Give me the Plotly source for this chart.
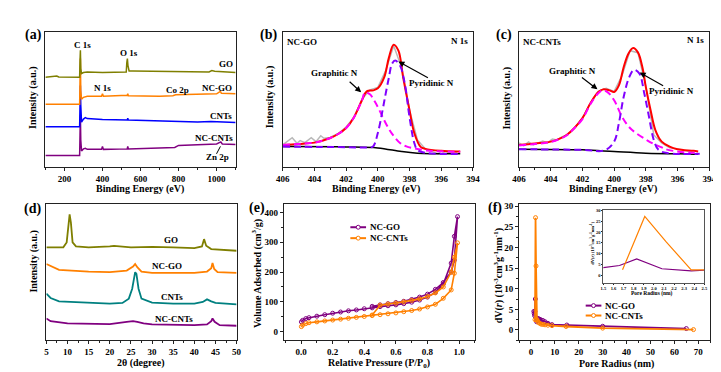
import plotly.graph_objects as go

# ---------------- data ----------------
# (a) XPS survey spectra (binding energy eV, intensity a.u. offset)
a_go_be = [100, 150, 160, 170, 280, 282, 284, 286, 290, 300, 320, 400, 525, 528, 531, 534, 540, 560, 700, 900, 960, 975, 990, 1100]
a_go_int = [90.3, 90.7, 91.5, 90.5, 90.3, 107, 117.5, 99, 94, 95, 95.5, 95, 95.5, 105, 109, 102, 96.5, 96.5, 96, 95.5, 95.5, 97, 96.2, 95]
a_ncgo_be = [100, 280, 282, 284, 286, 290, 300, 310, 320, 395, 400, 405, 530, 533, 536, 700, 770, 785, 1000, 1020, 1025, 1100]
a_ncgo_int = [63, 63, 87, 109, 77, 68, 70, 70.5, 71, 71, 73.7, 71, 72, 73.5, 71.5, 71, 71.5, 72.5, 73.5, 76, 74, 73.7]
a_cnt_be = [100, 280, 282, 284, 286, 290, 300, 310, 320, 400, 530, 533, 536, 700, 900, 970, 1100]
a_cnt_int = [40.3, 40.3, 62, 82, 62, 45, 48, 49.5, 48.5, 47.5, 47, 49, 47, 46, 45, 45.5, 44.5]
a_nccnt_be = [100, 280, 282, 284, 286, 290, 300, 310, 320, 395, 400, 405, 530, 533, 536, 690, 780, 800, 900, 1000, 1022, 1030, 1100]
a_nccnt_int = [11.3, 11.3, 32, 52, 27, 16, 18, 18.5, 17.5, 17.5, 20.5, 17.5, 18, 20.5, 18, 18.5, 19.5, 21.5, 22.5, 23, 25, 23, 22.5]

# (b) NC-GO N 1s
b_raw_be = [406, 405.7, 405.4, 405.1, 404.9, 404.6, 404.2, 403.9, 403.6, 403.4, 403, 402.5, 402, 401.5, 401, 400.5, 400, 399.5, 399, 398.5, 398, 397.5, 397, 396.5, 396.2, 396, 395.7, 395.3, 395]
b_raw_int = [22, 25.3, 29.3, 23.7, 26.3, 24.3, 29.3, 25.3, 31.3, 28.7, 29.5, 33.5, 40, 50, 68, 77.5, 80, 97, 122, 100, 57, 27, 18, 15, 13, 15.5, 13.5, 15, 14.5]
b_fit_be = [406, 405, 404, 403, 402.5, 402, 401.5, 401, 400.7, 400.3, 400, 399.6, 399.3, 399, 398.7, 398.4, 398, 397.7, 397.3, 397, 396, 395, 394.8]
b_fit_int = [22, 23, 24.3, 29, 33, 39, 50, 67, 76, 77, 79, 90, 110, 123, 117, 90, 57, 34, 20, 18, 16, 15.3, 15.3]
b_grap_be = [406, 405, 404, 403, 402.5, 402, 401.5, 401, 400.8, 400.5, 400.2, 399.9, 399.6, 399.3, 399, 398.6, 398.2, 397.7, 397, 396, 394.8]
b_grap_int = [22, 23, 24.3, 29, 33, 39, 50, 67, 75, 73, 66, 57, 47, 38, 31, 24, 20.5, 18.5, 16.5, 15.5, 15]
b_pyr_be = [406, 402, 400.6, 400.3, 400, 399.7, 399.5, 399.3, 399.1, 398.9, 398.6, 398.3, 398, 397.7, 397.5, 397, 394.8]
b_pyr_int = [20.3, 19.7, 19.5, 20.5, 34, 57, 74, 90, 104, 107, 102, 84, 50, 24, 17, 14, 13]
b_bg_be = [406, 402, 400, 398.5, 397.5, 395, 394.8]
b_bg_int = [20.3, 20, 19, 15.3, 13.7, 13, 13]

# (c) NC-CNTs N 1s
c_raw_be = [406, 405.7, 405.4, 405.1, 404.8, 404.5, 404.2, 403.9, 403.6, 403.3, 403, 402.5, 402, 401.5, 401, 400.5, 400, 399.5, 399, 398.5, 398, 397.5, 397, 396.5, 396, 395.5, 395]
c_raw_int = [24, 21, 25, 22, 24, 26, 24, 28, 27, 30, 32, 39, 49, 64, 76, 79, 76, 92, 117, 115, 81, 32, 24, 19, 18, 16, 14.5]
c_fit_be = [406, 405, 404, 403, 402, 401.5, 401, 400.7, 400.3, 400, 399.7, 399.4, 399.1, 398.8, 398.5, 398.2, 398, 397.7, 397.4, 397, 396.5, 396, 395, 394.7]
c_fit_int = [22, 23.5, 25.3, 32, 49, 64, 75.3, 78, 77, 75.3, 82, 100.3, 114, 119.7, 115.3, 99, 80.3, 57, 37, 25.3, 20.3, 17.7, 16, 15.3]
c_grap_be = [406, 405, 404, 403, 402.5, 402, 401.5, 401, 400.7, 400.4, 400, 399.5, 399, 398.6, 398, 397.6, 397, 396.6, 395.3, 394.7]
c_grap_int = [21.5, 23, 25, 31.5, 39, 48, 63, 74, 77, 75, 67, 50.3, 39, 33.7, 27.5, 23.7, 19.5, 17, 14.3, 14]
c_pyr_be = [406, 402, 400.6, 400.0, 399.7, 399.4, 399.05, 398.75, 398.4, 398.1, 397.8, 397.5, 397.2, 396.6, 394.6]
c_pyr_int = [17.7, 17, 16.5, 25.3, 44, 70.3, 90.3, 97.7, 93.7, 74, 50.3, 27, 17, 13.7, 13]
c_bg_be = [406, 402, 400, 398, 395, 394.7]
c_bg_int = [17.7, 17, 15.3, 13.7, 12.7, 12.5]

# (d) XRD patterns
d_go_2t = [5, 9, 9.8, 10.2, 10.5, 10.8, 11.2, 12, 15, 20, 21, 25, 30, 35, 40, 41.8, 42.3, 42.8, 44, 50]
d_go_int = [93.7, 93.7, 98.7, 118.7, 127, 118.7, 98.7, 94.7, 93.7, 94.7, 95.3, 93.7, 94.3, 93.7, 93, 94.7, 102, 95.3, 92, 90.3]
d_ncgo_2t = [5, 5.5, 6, 8, 15, 20, 24, 25.5, 26, 26.5, 27.5, 30, 40, 43, 44, 44.3, 44.7, 45.5, 50]
d_ncgo_int = [77, 76, 74.3, 71, 69.3, 68.7, 70.3, 74.3, 77, 73.7, 69.3, 68, 68, 69.3, 72.7, 78, 72, 68.7, 68]
d_cnt_2t = [5, 6, 8, 15, 20, 23, 24.5, 25.3, 25.8, 26, 26.3, 26.8, 27.5, 30, 35, 40, 42, 43, 44, 45, 50]
d_cnt_int = [47, 42.7, 39.3, 37.7, 37, 37.7, 42, 52, 64.7, 68.7, 67, 52, 42, 38, 37, 37, 38.7, 41.3, 39.3, 37.7, 36.3]
d_nccnt_2t = [5, 6, 10, 20, 24, 25.5, 26.5, 28, 30, 40, 43, 44, 44.3, 44.8, 46, 50]
d_nccnt_int = [22, 19.3, 17, 16.3, 18.7, 19.3, 18.7, 17, 16, 15.3, 16, 19.3, 22, 18.7, 15.3, 14.7]

# (e) N2 adsorption-desorption isotherms (adsorption then desorption)
e_p = [0.002, 0.01, 0.03, 0.05, 0.1, 0.15, 0.2, 0.25, 0.3, 0.35, 0.4, 0.45, 0.5, 0.55, 0.6, 0.65, 0.7, 0.75, 0.8, 0.85, 0.9, 0.95, 0.97, 0.99,
       0.97, 0.95, 0.9, 0.85, 0.8, 0.75, 0.7, 0.65, 0.6, 0.55, 0.5, 0.45]
e_ncgo = [33, 38, 44, 47, 52, 57, 62, 66, 70, 73, 77, 80, 84, 87, 90, 94, 99, 106, 116, 132, 160, 230, 320, 386,
          240, 200, 165, 142, 126, 116, 108, 102, 98, 94, 90, 85]
e_nccnt = [17, 22, 27, 30, 33, 36, 39, 42, 45, 48, 51, 54, 57, 60, 63, 67, 71, 76, 83, 92, 112, 140, 196, 298,
           250, 200, 150, 130, 118, 110, 105, 100, 96, 93, 89, 56]

# (f) pore size distribution
f_ncgo_r = [1.2, 1.35, 1.5, 1.66, 1.83, 2.08, 2.37, 2.5, 2.8, 3.2, 3.7, 4.3, 5.0, 5.9, 7.1, 8.8, 15, 30, 65]
f_ncgo_dv = [4.5, 4.0, 3.5, 4.5, 7.5, 3.0, 2.0, 2.3, 2.8, 2.7, 2.6, 2.4, 2.3, 2.0, 1.6, 1.3, 1.2, 0.9, 0.35]
f_nccnt_r = [1.69, 1.91, 2.12, 2.37, 2.5, 2.8, 3.2, 3.7, 4.3, 5.0, 5.9, 7.1, 8.8, 14.7, 30, 68]
f_nccnt_dv = [2.5, 27.2, 15.5, 2.5, 2.5, 2.1, 1.8, 1.6, 1.4, 1.35, 1.25, 1.15, 1.05, 0.85, 0.45, 0.1]

# colors
OLIVE = '#7f7f00'
ORANGE = '#ff8000'
BLUE = '#0000ff'
PURPLE = '#800080'
TEAL = '#008080'
RED = '#ff0000'
MAGENTA = '#ff00ff'
VIOLET = '#8000ff'
GRAY = '#b8b8b8'

FONT = "Liberation Serif, Times New Roman, serif"
W, H = 721, 372


def X(p):
    return p / W


def Y(p):
    return 1 - p / H


fig = go.Figure()


def line(xs, ys, color, xa, ya, width=1.5, dash=None, shape='linear', markers=False):
    fig.add_trace(go.Scatter(
        x=xs, y=ys, xaxis=xa, yaxis=ya,
        mode='lines+markers' if markers else 'lines',
        line=dict(color=color, width=width, dash=dash, shape=shape),
        marker=dict(symbol='circle-open', size=4, color=color, line=dict(width=1, color=color)),
        showlegend=False, hoverinfo='skip'))


# (a)
line(a_nccnt_be, a_nccnt_int, PURPLE, 'x', 'y')
line(a_cnt_be, a_cnt_int, BLUE, 'x', 'y')
line(a_ncgo_be, a_ncgo_int, ORANGE, 'x', 'y')
line(a_go_be, a_go_int, OLIVE, 'x', 'y')

# (b)
DASH = '7px,4px'
line(b_raw_be, b_raw_int, GRAY, 'x2', 'y2', 1.5)
line(b_fit_be, b_fit_int, RED, 'x2', 'y2', 2, shape='spline')
line(b_bg_be, b_bg_int, 'black', 'x2', 'y2', 1.5, shape='spline')
line(b_grap_be, b_grap_int, MAGENTA, 'x2', 'y2', 2, dash=DASH, shape='spline')
line(b_pyr_be, b_pyr_int, VIOLET, 'x2', 'y2', 2, dash=DASH, shape='spline')

# (c)
line(c_raw_be, c_raw_int, GRAY, 'x3', 'y3', 1.5)
line(c_fit_be, c_fit_int, RED, 'x3', 'y3', 2, shape='spline')
line(c_bg_be, c_bg_int, 'black', 'x3', 'y3', 1.5, shape='spline')
line(c_grap_be, c_grap_int, MAGENTA, 'x3', 'y3', 2, dash=DASH, shape='spline')
line(c_pyr_be, c_pyr_int, VIOLET, 'x3', 'y3', 2, dash=DASH, shape='spline')

# (d)
line(d_go_2t, d_go_int, OLIVE, 'x4', 'y4', 1.8)
line(d_ncgo_2t, d_ncgo_int, ORANGE, 'x4', 'y4', 1.8)
line(d_cnt_2t, d_cnt_int, TEAL, 'x4', 'y4', 1.8)
line(d_nccnt_2t, d_nccnt_int, PURPLE, 'x4', 'y4', 1.8)

# (e)
line(e_p, e_ncgo, PURPLE, 'x5', 'y5', 1.6, markers=True)
line(e_p, e_nccnt, ORANGE, 'x5', 'y5', 1.6, markers=True)

# (f) main and inset
line(f_ncgo_r, f_ncgo_dv, PURPLE, 'x6', 'y6', 1.8, markers=True)
line(f_nccnt_r, f_nccnt_dv, ORANGE, 'x6', 'y6', 1.8, markers=True)
line(f_ncgo_r, f_ncgo_dv, PURPLE, 'x7', 'y7', 1.2)
line(f_nccnt_r, f_nccnt_dv, ORANGE, 'x7', 'y7', 1.2)


def ax(**kw):
    d = dict(showline=True, linecolor='#222', linewidth=1, mirror=True, showgrid=False,
             zeroline=False, ticks='outside', ticklen=3, tickwidth=1, tickcolor='#222',
             tickfont=dict(family=FONT, size=9, color='black', weight='bold'),
             autorange=False)
    d.update(kw)
    return d


def noy(**kw):
    return ax(showticklabels=False, ticks='', **kw)


def minor(dt, ln=2):
    return dict(ticks='outside', ticklen=ln, dtick=dt, tickcolor='#222')


INSET_FONT = dict(family=FONT, size=4.5, color='black', weight='bold')

fig.update_layout(
    width=W, height=H, margin=dict(l=0, r=0, t=0, b=0),
    paper_bgcolor='white', plot_bgcolor='white', showlegend=False,
    xaxis=ax(domain=[X(31), X(225)], range=[100, 1100], tick0=0, dtick=200, minor=minor(100), anchor='y'),
    yaxis=noy(domain=[Y(157), Y(21)], range=[0, 136], anchor='x'),
    xaxis2=ax(domain=[X(273), X(467)], range=[406, 394], tick0=0, dtick=2, minor=minor(1), anchor='y2'),
    yaxis2=noy(domain=[Y(157), Y(21)], range=[0, 136], anchor='x2'),
    xaxis3=ax(domain=[X(514), X(708)], range=[406, 394], tick0=0, dtick=2, minor=minor(1), anchor='y3'),
    yaxis3=noy(domain=[Y(157), Y(21)], range=[0, 136], anchor='x3'),
    xaxis4=ax(domain=[X(32), X(226)], range=[5, 50], tick0=0, dtick=5, minor=minor(2.5), anchor='y4'),
    yaxis4=noy(domain=[Y(332), Y(195)], range=[0, 137], anchor='x4'),
    xaxis5=ax(domain=[X(274), X(469)], range=[-0.11, 1.1], tick0=0, dtick=0.2, tickformat='.1f', minor=minor(0.1), anchor='y5'),
    yaxis5=ax(domain=[Y(332), Y(195)], range=[-29, 427], tick0=0, dtick=100, minor=minor(50), anchor='x5'),
    xaxis6=ax(domain=[X(514), X(709)], range=[-5, 75], tick0=0, dtick=10, minor=minor(5), anchor='y6'),
    yaxis6=ax(domain=[Y(332), Y(195)], range=[-2.5, 30.4], tick0=0, dtick=5, minor=minor(2.5), anchor='x6'),
    xaxis7=ax(domain=[X(600), X(703)], range=[1.5, 2.5], tick0=1.5, dtick=0.1, tickformat='.1f', ticklen=1,
              linecolor='#555', tickfont=INSET_FONT, anchor='y7'),
    yaxis7=ax(domain=[Y(274), Y(201)], range=[-3.5, 30], tick0=0, dtick=5, ticklen=1,
              linecolor='#555', tickfont=INSET_FONT, anchor='x7'),
)


def text(t, px, py, size=9, angle=0, xanchor='center'):
    fig.add_annotation(text=t, x=X(px), y=Y(py), xref='paper', yref='paper', showarrow=False,
                       font=dict(family=FONT, size=size, color='black', weight='bold'),
                       textangle=angle, xanchor=xanchor, yanchor='middle')


def arrow(hx, hy, tx, ty):
    fig.add_annotation(x=X(hx), y=Y(hy), xref='paper', yref='paper', ax=tx - hx, ay=ty - hy,
                       axref='pixel', ayref='pixel', text='', showarrow=True,
                       arrowhead=2, arrowsize=1, arrowwidth=1.2, arrowcolor='black')


def legend_item(px0, px1, py, color, label):
    fig.add_shape(type='line', xref='paper', yref='paper', x0=X(px0), x1=X(px1), y0=Y(py), y1=Y(py),
                  line=dict(color=color, width=2))
    cx = (px0 + px1) / 2
    fig.add_shape(type='circle', xref='paper', yref='paper', x0=X(cx - 2), x1=X(cx + 2),
                  y0=Y(py + 2), y1=Y(py - 2), line=dict(color=color, width=1), fillcolor='white')
    text(label, px1 + 2, py, 9, xanchor='left')


# panel letters
for lab, px, py in [('(a)', 19, 24), ('(b)', 259, 24), ('(c)', 499, 24),
                    ('(d)', 18, 200), ('(e)', 247, 199), ('(f)', 489, 199)]:
    text(lab, px, py, 14)

# axis titles
text('Intensity (a.u.)', 19, 87, 10, -90)
text('Intensity (a.u.)', 260, 86, 10, -90)
text('Intensity (a.u.)', 502, 88, 10, -90)
text('Intensity (a.u.)', 19, 252, 10, -90)
text('Volume Adsorbed (cm<sup>3</sup>/g)', 247, 265, 10, -90)
text('dV(<i>r</i>) (10<sup>-3</sup>cm<sup>3</sup>g<sup>-1</sup>nm<sup>-1</sup>)', 493, 267, 10, -90)
text('Binding Energy (eV)', 127, 179, 10)
text('Binding Energy (eV)', 368, 179, 10)
text('Binding Energy (eV)', 610, 179, 10)
text('2θ (degree)', 129, 355, 10)
text('Relative Pressure (P/P<sub>0</sub>)', 371, 355, 10)
text('Pore Radius (nm)', 613, 356, 10)
text('Pore Radius (nm)', 650, 285, 5.5)
text('dV(<i>r</i>) (10<sup>-3</sup>cm<sup>3</sup>g<sup>-1</sup>nm<sup>-1</sup>)', 589, 234, 4.5, -90)

# (a) labels
text('C 1s', 68.5, 34, 9)
text('O 1s', 116, 42, 9)
text('GO', 215, 53, 9)
text('N 1s', 89.5, 78, 9)
text('Co 2p', 166, 80, 9)
text('NC-GO', 206.5, 78, 9)
text('CNTs', 210.5, 106, 9)
text('NC-CNTs', 203, 128, 9)
text('Zn 2p', 206, 147, 9)
fig.add_shape(type='line', xref='paper', yref='paper', x0=X(205.5), y0=Y(144), x1=X(209.5), y1=Y(136.5),
              line=dict(color='black', width=1))

# (b) labels
text('NC-GO', 293, 31, 9)
text('N 1s', 453, 30, 9)
text('Graphitic N', 326, 63, 9)
text('Pyridinic N', 425, 73, 9)
arrow(353, 82, 340, 70)
arrow(391, 51, 422, 68)

# (c) labels
text('NC-CNTs', 537, 31, 9)
text('N 1s', 694, 29, 9)
text('Graphitic N', 569, 60, 9)
text('Pyridinic N', 670, 81, 9)
arrow(594, 79, 577, 66)
arrow(637, 62, 662, 76)

# (d) labels
text('GO', 159, 231, 9)
text('NC-GO', 155, 257, 9)
text('CNTs', 160, 288, 9)
text('NC-CNTs', 162, 311, 9)

# legends
legend_item(342, 358, 218, PURPLE, 'NC-GO')
legend_item(342, 358, 229, ORANGE, 'NC-CNTs')
legend_item(582, 598, 297, PURPLE, 'NC-GO')
legend_item(582, 598, 307, ORANGE, 'NC-CNTs')

fig.write_html("out.html")
